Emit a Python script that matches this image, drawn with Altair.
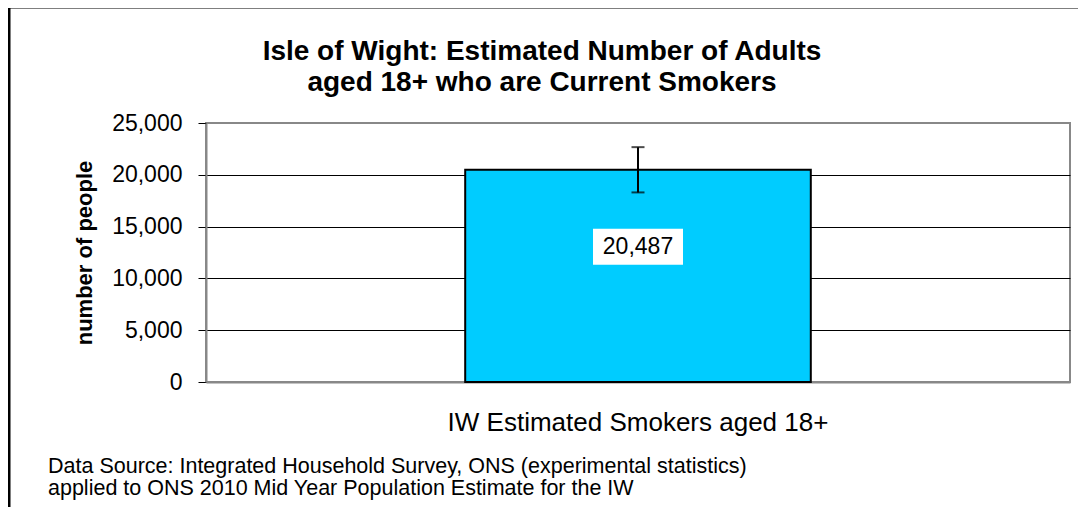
import altair as alt
import pandas as pd

# ---- data ----
categories = ["IW Estimated Smokers aged 18+"]
smokers = [20487]
ci_lower = [18300]
ci_upper = [22670]
value_labels = ["20,487"]
y_tick_values = [0, 5000, 10000, 15000, 20000, 25000]
y_domain = [0, 25000]
title_lines = ["Isle of Wight: Estimated Number of Adults", "aged 18+ who are Current Smokers"]
y_axis_title = "number of people"
source_lines = [
    "Data Source: Integrated Household Survey, ONS (experimental statistics)",
    "applied to ONS 2010 Mid Year Population Estimate for the IW",
]

FONT = "Liberation Sans"
PLOT_W, PLOT_H = 864, 259

df = pd.DataFrame({
    "category": categories,
    "smokers": smokers,
    "lo": ci_lower,
    "hi": ci_upper,
    "label": value_labels,
})
one_row = pd.DataFrame({"k": [0]})

x_axis = alt.Axis(
    labelAngle=0, labelFont=FONT, labelFontSize=26, labelColor="black",
    labelPadding=27, labelLimit=800, ticks=False, tickSize=0,
    domainColor="#888888", domainWidth=2,
)
x_scale = alt.Scale(paddingInner=0, paddingOuter=0.75)

y_scale = alt.Scale(domain=y_domain, nice=False)
y_axis = alt.Axis(
    values=y_tick_values, format=",.0f",
    labelFont=FONT, labelFontSize=23, labelColor="black", labelPadding=16,
    tickSize=8, tickColor="black", tickWidth=1,
    domainColor="#888888", domainWidth=2,
    gridColor={"condition": {"test": "datum.value === 0 || datum.value === 25000", "value": "#888888"},
               "value": "black"},
    gridWidth=1,
    titleFont=FONT, titleFontSize=22, titleFontWeight="bold", titleColor="black",
    titlePadding=15,
)


def X():
    return alt.X("category:N", title=None, scale=x_scale, axis=x_axis)


def Y(field):
    return alt.Y(field, title=y_axis_title, scale=y_scale, axis=y_axis)


base = alt.Chart(df)

bars = base.mark_bar(color="#00CCFF", stroke="black", strokeWidth=2).encode(
    x=X(), y=Y("smokers:Q"),
)

label_box = base.mark_bar(color="white", width=90, yOffset=59, y2Offset=95).encode(
    x=X(), y=Y("smokers:Q"), y2="smokers:Q",
)

label_text = base.mark_text(dy=77, font=FONT, fontSize=23, color="black").encode(
    x=X(), y=Y("smokers:Q"), text="label:N",
)

err_rule = base.mark_rule(color="black", strokeWidth=2).encode(
    x=X(), y=Y("lo:Q"), y2="hi:Q",
)
cap_lo = base.mark_tick(color="black", size=13, thickness=2).encode(
    x=X(), y=Y("lo:Q"),
)
cap_hi = base.mark_tick(color="black", size=13, thickness=2).encode(
    x=X(), y=Y("hi:Q"),
)

title_text = alt.Chart(one_row).mark_text(
    align="center", baseline="alphabetic", font=FONT, fontSize=28, fontWeight="bold",
    lineHeight=31, color="black",
).encode(
    x=alt.value(336), y=alt.value(-63), text=alt.value(title_lines),
)

footnote = alt.Chart(one_row).mark_text(
    align="left", baseline="alphabetic", font=FONT, fontSize=21.5, lineHeight=22, color="black",
).encode(
    x=alt.value(-158), y=alt.value(350), text=alt.value(source_lines),
)

frame_left = alt.Chart(one_row).mark_rule(color="black", strokeWidth=3).encode(
    x=alt.value(-197), y=alt.value(-116), y2=alt.value(390),
)
frame_top = alt.Chart(one_row).mark_rule(color="black", strokeWidth=3).encode(
    x=alt.value(-198), x2=alt.value(900), y=alt.value(-116),
)

chart = alt.layer(
    bars, label_box, label_text, err_rule, cap_lo, cap_hi,
    title_text, footnote, frame_left, frame_top,
).properties(
    width=PLOT_W,
    height=PLOT_H,
    autosize="none",
    padding={"left": 198, "top": 115, "right": 8, "bottom": 125},
    background="white",
).configure_view(stroke="#888888", strokeWidth=2)

chart.save("out.html", embed_options={"renderer": "svg", "actions": False})
